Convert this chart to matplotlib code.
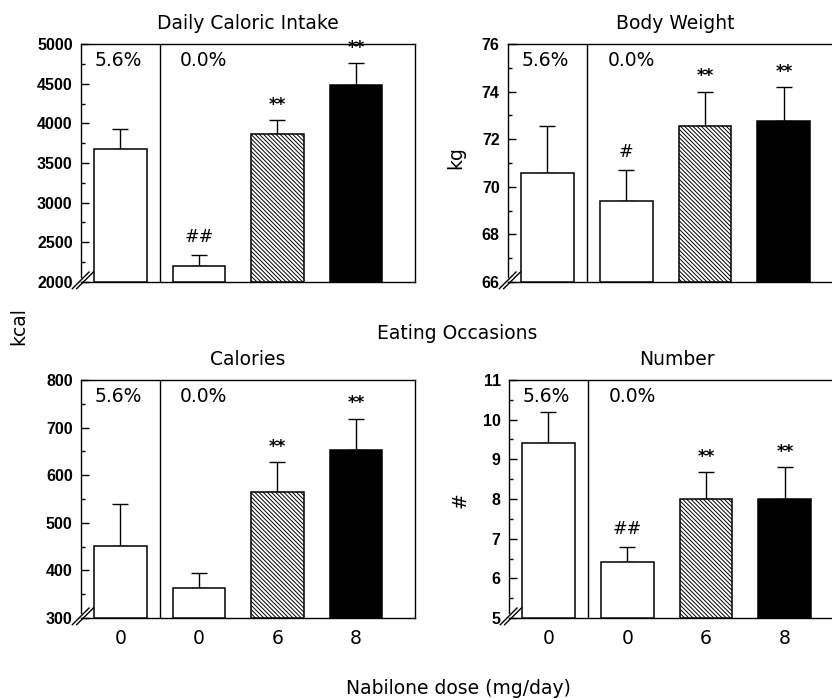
import matplotlib
matplotlib.use("Agg")
import matplotlib.pyplot as plt
from matplotlib.ticker import MultipleLocator

# ---------------- data ----------------
groups = ["0", "0", "6", "8"]          # Nabilone dose (mg/day); first = 5.6% THC control
pct_labels = ["5.6%", "0.0%"]

intake_mean = [3680, 2200, 3860, 4480]
intake_err = [245, 140, 180, 280]
intake_sig = ["", "##", "**", "**"]

weight_mean = [70.6, 69.4, 72.55, 72.75]
weight_err = [1.95, 1.3, 1.45, 1.45]
weight_sig = ["", "#", "**", "**"]

occ_cal_mean = [452, 362, 565, 652]
occ_cal_err = [88, 33, 63, 67]
occ_cal_sig = ["", "", "**", "**"]

occ_num_mean = [9.4, 6.4, 8.0, 8.0]
occ_num_err = [0.8, 0.4, 0.68, 0.8]
occ_num_sig = ["", "##", "**", "**"]

panels = [
    dict(title="Daily Caloric Intake", mean=intake_mean, err=intake_err, sig=intake_sig,
         ylim=(2000, 5000), major=500, minor=250, xlabels=False),
    dict(title="Body Weight", mean=weight_mean, err=weight_err, sig=weight_sig,
         ylim=(66, 76), major=2, minor=1, xlabels=False),
    dict(title="Calories", mean=occ_cal_mean, err=occ_cal_err, sig=occ_cal_sig,
         ylim=(300, 800), major=100, minor=50, xlabels=True),
    dict(title="Number", mean=occ_num_mean, err=occ_num_err, sig=occ_num_sig,
         ylim=(5, 11), major=1, minor=0.5, xlabels=True),
]

# ---------------- style ----------------
W, H = 832, 699
fig = plt.figure(figsize=(W / 100, H / 100), dpi=100)
plt.rcParams["hatch.linewidth"] = 0.7

text_font = "DejaVu Sans"
tick_font = "Liberation Sans"
TS = 13.5

rects = [
    (81 / W, 1 - 282 / H, 334 / W, 238 / H),
    (508 / W, 1 - 282 / H, 335 / W, 238 / H),
    (81 / W, 1 - 618 / H, 334 / W, 238 / H),
    (509 / W, 1 - 618 / H, 335 / W, 238 / H),
]

faces = ["white", "white", "white", "black"]
hatches = [None, None, "\\" * 8, None]
x = list(range(len(groups)))

for p, r in zip(panels, rects):
    ax = fig.add_axes(r)
    m, e = p["mean"], p["err"]
    bars = ax.bar(x, [v - p["ylim"][0] for v in m], bottom=p["ylim"][0], width=0.67,
                  color=faces, edgecolor="black", linewidth=1.1, zorder=3)
    for b, h in zip(bars, hatches):
        if h:
            b.set_hatch(h)
    ax.errorbar(x, m, yerr=[[0] * len(e), e], fmt="none", ecolor="black",
                elinewidth=1.0, capsize=6, capthick=1.0, zorder=2)
    ax.axvline(0.5, color="black", lw=1.0, zorder=4)
    ax.set_xlim(-0.5, 3.75)
    ax.set_ylim(*p["ylim"])
    ax.yaxis.set_major_locator(MultipleLocator(p["major"]))
    ax.yaxis.set_minor_locator(MultipleLocator(p["minor"]))
    ax.tick_params(axis="y", which="major", direction="in", length=6, width=1.0, pad=6)
    ax.tick_params(axis="y", which="minor", direction="in", length=3, width=1.0)
    for lab in ax.get_yticklabels():
        lab.set_fontfamily(tick_font)
        lab.set_fontweight("bold")
        lab.set_fontsize(11.5)
    ax.set_xticks(x)
    if p["xlabels"]:
        ax.set_xticklabels(groups, fontfamily=text_font, fontsize=TS)
        ax.tick_params(axis="x", length=0, pad=8)
    else:
        ax.set_xticklabels([])
        ax.tick_params(axis="x", length=0)
    for s in ax.spines.values():
        s.set_linewidth(1.0)
    ax.spines["left"].set_bounds(p["ylim"][0] + 0.02 * (p["ylim"][1] - p["ylim"][0]), p["ylim"][1])
    # axis break marks
    for dx in (0.0, 0.013):
        ax.plot([-0.026 + dx, 0.024 + dx], [-0.028, 0.042], transform=ax.transAxes,
                color="black", lw=1.0, clip_on=False, zorder=5)
    ax.set_title(p["title"], fontfamily=text_font, fontsize=TS, pad=11)
    ax.text(-0.33, 0.93, pct_labels[0], transform=ax.get_xaxis_transform(),
            fontfamily=text_font, fontsize=TS, ha="left", va="center")
    ax.text(0.76, 0.93, pct_labels[1], transform=ax.get_xaxis_transform(),
            fontfamily=text_font, fontsize=TS, ha="left", va="center")
    for xi, mi, ei, s in zip(x, m, e, p["sig"]):
        if s:
            is_hash = "#" in s
            ax.annotate(s, (xi, mi + ei), xytext=(0, 13 if is_hash else 11),
                        textcoords="offset points", ha="center", va="center",
                        fontfamily=text_font, fontsize=12.5 if is_hash else 12,
                        fontweight="normal" if is_hash else "bold")

fig.text(19 / W, 1 - 326 / H, "kcal", rotation=90, ha="center", va="center",
         fontfamily=text_font, fontsize=TS)
fig.text(456 / W, 1 - 158 / H, "kg", rotation=90, ha="center", va="center",
         fontfamily=text_font, fontsize=TS)
fig.text(460 / W, 1 - 500 / H, "#", rotation=90, ha="center", va="center",
         fontfamily=text_font, fontsize=TS)
fig.text(457 / W, 1 - 333 / H, "Eating Occasions", ha="center", va="center",
         fontfamily=text_font, fontsize=TS)
fig.text(458 / W, 1 - 688 / H, "Nabilone dose (mg/day)", ha="center", va="center",
         fontfamily=text_font, fontsize=TS)

fig.savefig("out.png", dpi=100, facecolor="white")
